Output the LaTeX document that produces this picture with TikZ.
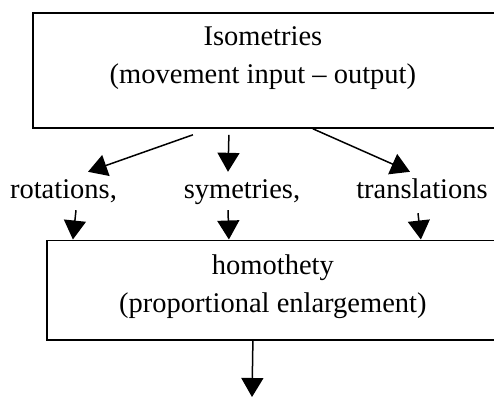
\documentclass[tikz,border=0pt]{standalone}
\usepackage{fontspec}
\setmainfont{Liberation Serif}
\usetikzlibrary{arrows.meta,positioning}
\tikzset{
  box/.style={draw,line width=1.8pt,rectangle,inner sep=0pt},
  txt/.style={font=\fontsize{28.5}{37.5}\selectfont,inner sep=0pt,align=center},
  lbl/.style={font=\fontsize{28.5}{37.5}\selectfont,inner sep=0pt,text height=20pt,text depth=6pt,anchor=base},
  arr/.style={line width=1.5pt,-{Triangle[length=19pt,width=22pt]}}
}
\begin{document}
\begin{tikzpicture}[x=1pt,y=-1pt]
\useasboundingbox (0,0) rectangle (494,397);
% boxes
\node[box,anchor=north west,minimum width=468pt,minimum height=115pt] (iso) at (32,12) {};
\node[txt,below=14.5pt of iso.north,xshift=-4pt] (isotext) {Isometries\\(movement input -- output)};
\node[box,anchor=north west,minimum width=452pt,minimum height=99.5pt] (hom) at (46,239.5) {};
\node[txt,below=15.5pt of hom.north] (homtext) {homothety\\(proportional enlargement)};
% labels
\node[lbl] (rot) at (63.5,198) {rotations,};
\node[lbl] (sym) at (242,198) {symetries,};
\node[lbl] (tra) at (422,198) {translations};
\coordinate (out) at (252,397);
% arrows
\draw[arr] ([xshift=-74pt,yshift=-6pt]iso.south) -- ([xshift=24.5pt,yshift=6pt]rot.north);
\draw[arr] ([xshift=-38pt,yshift=-6pt]iso.south) -- ([xshift=-14pt,yshift=6pt]sym.north);
\draw[arr] ([xshift=46pt]iso.south) -- ([xshift=-12pt,yshift=6pt]tra.north);
\draw[arr] ([xshift=12.5pt,yshift=-6pt]rot.south) -- ([xshift=-200pt]hom.north);
\draw[arr] ([xshift=-14pt,yshift=-6pt]sym.south) -- ([xshift=-44pt]hom.north);
\draw[arr] ([xshift=-4pt,yshift=-9pt]tra.south) -- ([xshift=148pt]hom.north);
\draw[arr] ([xshift=-20pt]hom.south) -- (out);
\end{tikzpicture}
\end{document}
